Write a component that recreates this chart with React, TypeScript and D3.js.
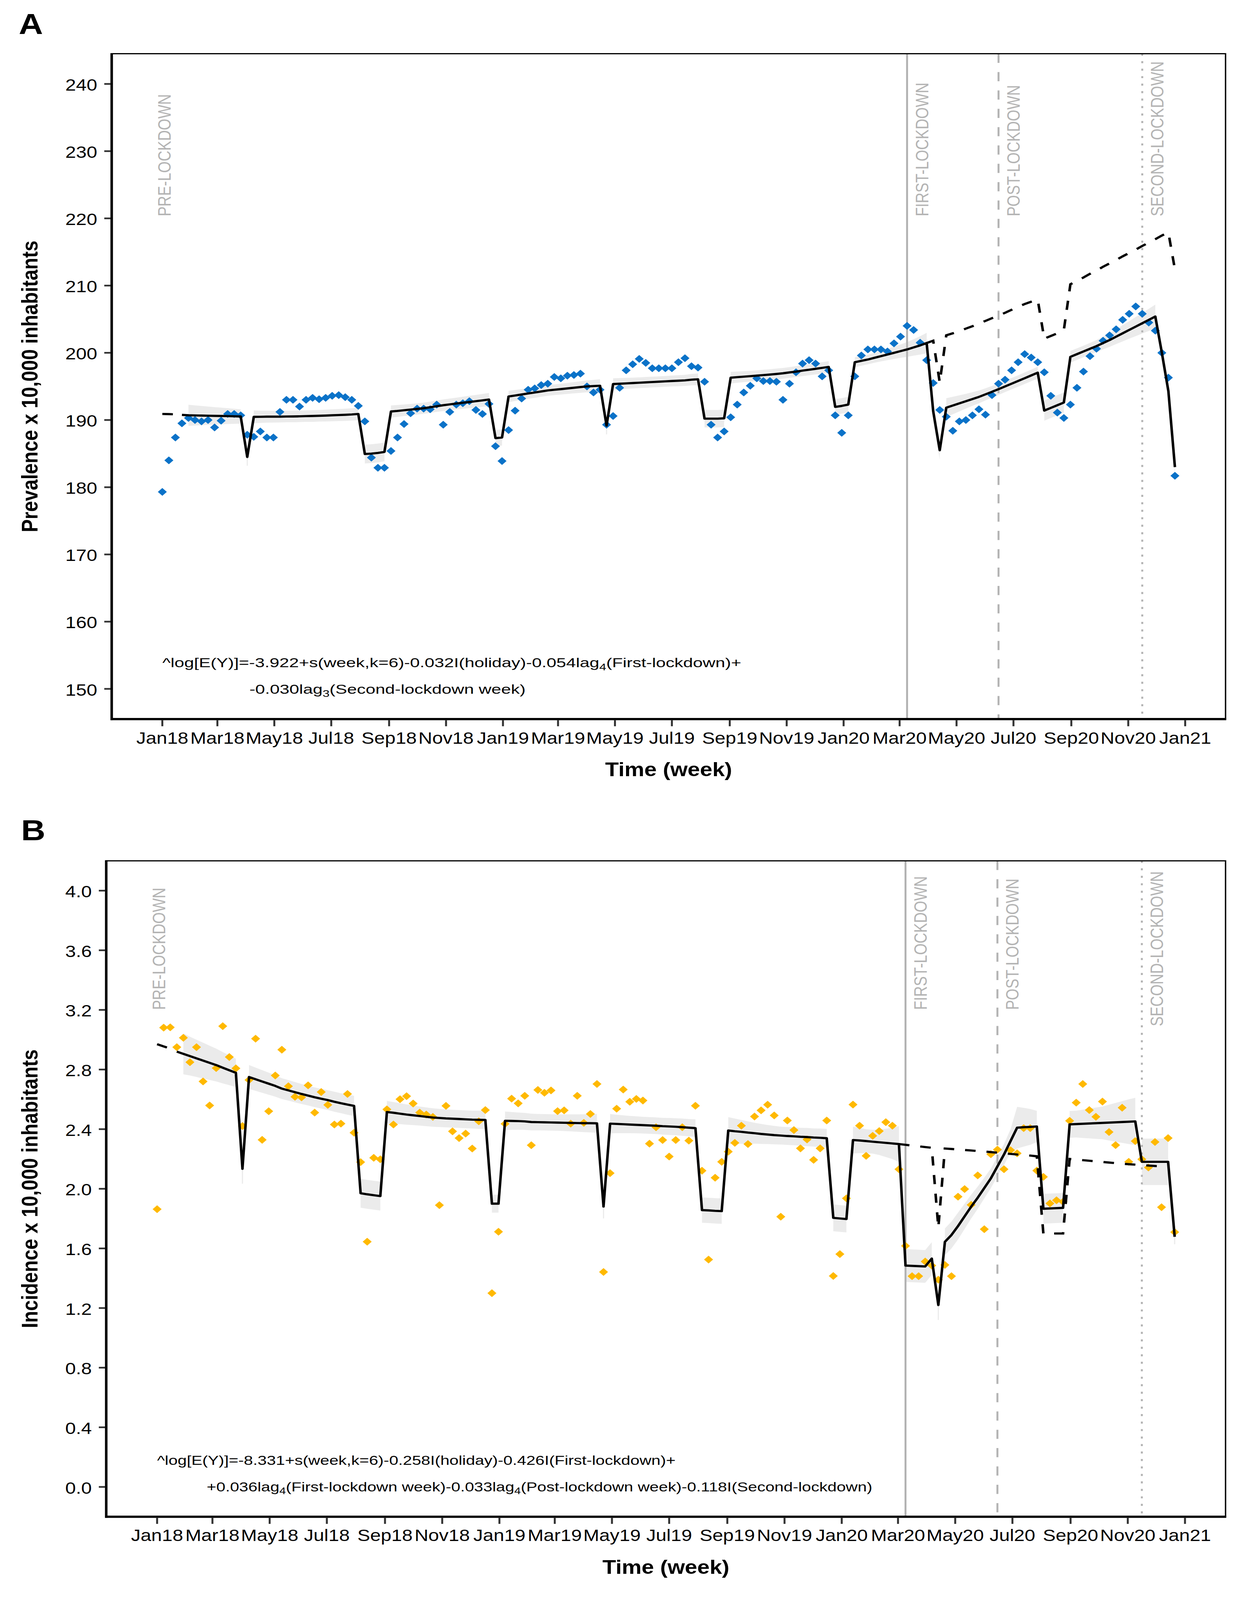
import React from "react";
import * as d3 from "d3";

const FONT = "'Liberation Sans', Arial, Helvetica, sans-serif";

// ---------- shared axis data ----------
const monthTicks = ["Jan18","Mar18","May18","Jul18","Sep18","Nov18","Jan19","Mar19","May19","Jul19","Sep19","Nov19","Jan20","Mar20","May20","Jul20","Sep20","Nov20","Jan21"];
const eventWeeks = [114, 128, 150];
const eventNames = ["FIRST-LOCKDOWN", "POST-LOCKDOWN", "SECOND-LOCKDOWN"];
const nWeeks = 156;

// ---------- Panel A : prevalence ----------
const prevYTicks = [150, 160, 170, 180, 190, 200, 210, 220, 230, 240];
const prevObs = [
  179.3,184.0,187.4,189.5,190.3,190.0,189.8,190.0,188.9,189.9,
  190.9,190.9,190.7,187.8,187.5,188.3,187.4,187.4,191.2,193.0,
  193.0,192.0,193.0,193.3,193.1,193.3,193.6,193.7,193.4,193.0,
  192.1,189.8,184.4,182.9,182.9,185.4,187.4,189.4,191.0,191.7,
  191.7,191.6,192.3,189.3,191.2,192.3,192.5,192.8,191.5,190.9,
  192.4,186.1,183.9,188.5,191.4,193.2,194.5,194.7,195.2,195.4,
  196.4,196.2,196.6,196.7,196.9,195.0,194.1,194.5,189.3,190.6,
  194.8,197.4,198.3,199.1,198.5,197.7,197.7,197.7,197.7,198.6,
  199.2,198.0,197.8,195.7,189.3,187.4,188.3,190.4,192.3,194.1,
  195.1,196.2,195.8,195.8,195.7,193.0,195.4,197.1,198.4,198.9,
  198.4,196.5,197.4,190.7,188.1,190.7,196.5,199.6,200.5,200.5,
  200.5,200.2,201.4,202.4,204.0,203.4,201.5,198.9,195.5,191.5,
  190.5,188.4,189.8,190.0,190.7,191.6,190.8,193.7,195.4,196.0,
  197.4,198.6,199.8,199.3,198.6,197.1,193.6,191.1,190.3,192.3,
  194.8,197.2,199.5,200.6,201.8,202.6,203.5,204.9,205.8,206.9,
  205.8,204.5,203.3,200.0,196.3,181.7
];
const prevFitStart = 3;
const prevFit = [
  190.76,190.70,190.68,190.66,190.64,190.62,190.60,190.58,190.55,190.53,
  184.5,
  190.47,190.48,190.50,190.50,190.50,190.52,190.53,190.55,190.58,190.60,190.63,190.66,190.70,190.74,190.78,190.83,190.90,
  184.94,185.00,185.10,185.25,
  191.27,191.35,191.45,191.55,191.65,191.75,191.90,192.05,192.20,192.32,192.45,192.57,192.68,192.80,192.92,193.05,
  187.3,187.4,
  193.50,193.65,193.80,193.95,194.10,194.25,194.40,194.50,194.60,194.70,194.80,194.90,195.00,195.05,195.10,
  189.16,
  195.35,195.40,195.45,195.50,195.55,195.60,195.65,195.70,195.75,195.80,195.85,195.90,196.00,196.06,
  190.20,190.20,190.20,190.25,
  196.30,196.38,196.45,196.52,196.60,196.68,196.76,196.85,196.95,197.08,197.20,197.35,197.48,197.62,197.76,197.90,
  191.95,192.10,192.30,
  198.60,198.80,199.00,199.25,199.50,199.75,200.00,200.25,200.50,200.80,201.10,201.46,
  191.3,185.5,
  191.84,192.16,192.48,192.80,193.12,193.44,193.82,194.20,194.59,195.00,195.40,195.81,196.22,196.63,197.05,
  191.4,191.8,192.2,192.6,
  199.4,199.8,200.2,200.6,201.0,201.45,201.9,202.4,202.9,203.4,203.9,204.4,204.9,205.4,
  200.0,194.3,183.0
];
const prevCiStart = 4;
const prevCiHalf = [
  1.57,1.50,1.43,1.37,1.30,1.24,1.18,1.12,1.07,
  1.3,
  0.95,0.92,0.90,0.88,0.87,0.86,0.86,0.86,0.86,0.87,0.87,0.88,0.89,0.90,0.91,0.92,0.93,
  1.4,1.4,1.4,1.4,
  0.90,0.88,0.86,0.85,0.84,0.84,0.84,0.85,0.86,0.87,0.88,0.90,0.92,0.94,0.96,0.98,
  1.2,1.2,
  0.85,0.82,0.80,0.80,0.80,0.80,0.80,0.80,0.81,0.82,0.84,0.86,0.88,0.92,0.97,
  1.3,
  0.86,0.84,0.82,0.81,0.80,0.80,0.80,0.80,0.80,0.81,0.82,0.83,0.85,0.87,
  1.3,1.3,1.3,1.3,
  0.86,0.84,0.82,0.80,0.80,0.80,0.80,0.80,0.80,0.80,0.80,0.81,0.82,0.83,0.84,0.86,
  1.16,1.16,1.16,
  0.75,0.72,0.72,0.74,0.78,0.84,0.92,1.00,1.10,1.22,1.36,1.52,
  1.4,1.4,
  1.40,1.30,1.20,1.10,1.02,0.95,0.90,0.87,0.85,0.84,0.84,0.85,0.86,0.87,0.88,
  1.5,1.5,1.5,1.5,
  0.87,0.86,0.86,0.87,0.90,0.95,1.02,1.10,1.20,1.30,1.42,1.53,1.65,1.77,
  1.3,1.25,1.2
];
const prevSegments = [[4,12],[13,13],[14,30],[31,34],[35,50],[51,52],[53,67],[68,68],[69,82],[83,86],[87,102],[103,105],[106,117],[118,119],[120,134],[135,138],[139,152],[153,155]];
const prevCfEarly = [190.90, 190.88, 190.84, 190.76];
const prevCfLateStart = 117;
const prevCfLate = [
  201.46,201.8,195.6,202.6,202.9,203.2,203.6,203.95,204.35,204.75,
  205.15,205.55,205.95,206.4,206.85,207.25,207.6,207.9,202.1,202.5,
  202.9,203.4,210.2,210.7,211.2,211.75,212.25,212.8,213.3,213.8,
  214.35,214.85,215.35,215.9,216.4,216.9,217.45,217.9,212.4
];
const prevLabelY = [220.3, 220.3, 220.3, 220.3];
const prevAnno1 = ["^log[E(Y)]=-3.922+s(week,k=6)-0.032I(holiday)-0.054lag", "4", "(First-lockdown)+"];
const prevAnno2 = ["-0.030lag", "3", "(Second-lockdown week)"];

// ---------- Panel B : incidence ----------
const incYTicks = [0, 0.4, 0.8, 1.2, 1.6, 2.0, 2.4, 2.8, 3.2, 3.6, 4.0];
const incObs = [
  1.863,3.081,3.083,2.950,3.013,2.849,2.950,2.720,2.559,2.810,
  3.091,2.884,2.808,2.421,2.730,3.007,2.328,2.520,2.760,2.933,
  2.688,2.617,2.613,2.694,2.511,2.649,2.563,2.431,2.437,2.636,
  2.376,2.179,1.645,2.208,2.198,2.533,2.431,2.601,2.621,2.572,
  2.511,2.498,2.482,1.890,2.556,2.385,2.340,2.370,2.270,2.453,
  2.528,1.300,1.712,2.436,2.605,2.573,2.624,2.292,2.663,2.644,
  2.660,2.521,2.526,2.437,2.624,2.442,2.502,2.703,1.442,2.105,
  2.537,2.666,2.584,2.603,2.592,2.303,2.413,2.327,2.216,2.327,
  2.413,2.323,2.557,2.121,1.525,2.074,2.181,2.249,2.308,2.423,
  2.300,2.485,2.526,2.564,2.492,1.813,2.458,2.394,2.271,2.331,
  2.194,2.271,2.458,1.415,1.562,1.936,2.565,2.423,2.221,2.355,
  2.387,2.447,2.423,2.131,1.617,1.414,1.414,1.512,1.485,1.390,
  1.489,1.414,1.947,1.998,1.892,2.090,1.729,2.232,2.263,2.131,
  2.259,2.238,2.407,2.407,2.122,2.080,1.902,1.923,1.913,2.456,
  2.578,2.703,2.528,2.483,2.585,2.381,2.293,2.544,2.181,2.320,
  2.198,2.143,2.314,1.876,2.340,1.709
];
const incFitStart = 3;
const incFit = [
  2.920,2.905,2.890,2.875,2.860,2.845,2.830,2.812,2.795,2.778,
  2.134,
  2.750,2.735,2.720,2.705,2.690,2.672,2.660,2.648,2.636,2.625,2.614,2.604,2.595,2.584,2.574,2.565,2.556,
  1.970,1.963,1.957,1.951,
  2.515,2.510,2.504,2.498,2.493,2.488,2.483,2.478,2.475,2.472,2.470,2.468,2.466,2.464,2.463,2.462,
  1.900,1.900,
  2.456,2.455,2.454,2.452,2.448,2.447,2.446,2.445,2.444,2.443,2.442,2.441,2.440,2.440,2.439,
  1.881,
  2.437,2.435,2.433,2.431,2.429,2.427,2.425,2.423,2.420,2.418,2.416,2.413,2.410,2.407,
  1.857,1.855,1.852,1.850,
  2.391,2.386,2.382,2.377,2.373,2.368,2.364,2.360,2.357,2.354,2.352,2.349,2.347,2.344,2.342,2.339,
  1.805,1.801,1.797,
  2.327,2.324,2.320,2.316,2.312,2.308,2.304,2.300,
  1.485,1.483,1.481,1.479,1.532,
  1.220,
  1.644,1.690,1.750,1.815,1.880,1.940,2.005,2.070,2.150,2.230,2.320,2.410,2.413,2.415,2.418,
  1.866,1.868,1.870,1.872,
  2.432,2.434,2.436,2.438,2.440,2.442,2.444,2.446,2.448,2.450,2.452,
  2.181,2.181,2.181,2.181,2.181,
  1.678
];
const incCiStart = 4;
const incCiHalf = [
  0.137,0.130,0.125,0.120,0.115,0.110,0.105,0.100,0.095,
  0.10,
  0.080,0.078,0.076,0.074,0.072,0.070,0.069,0.068,0.067,0.066,0.066,0.066,0.066,0.067,0.067,0.068,0.068,
  0.097,0.097,0.097,0.097,
  0.075,0.072,0.070,0.068,0.066,0.064,0.063,0.062,0.061,0.060,0.060,0.060,0.060,0.060,0.061,0.061,
  0.06,0.06,
  0.062,0.060,0.058,0.057,0.056,0.055,0.055,0.055,0.055,0.056,0.057,0.058,0.060,0.062,0.063,
  0.08,
  0.065,0.062,0.060,0.058,0.057,0.056,0.056,0.056,0.056,0.057,0.057,0.058,0.058,0.059,
  0.085,0.085,0.085,0.085,
  0.090,0.085,0.080,0.075,0.070,0.067,0.064,0.062,0.060,0.060,0.060,0.060,0.061,0.061,0.062,0.063,
  0.09,0.09,0.09,
  0.090,0.085,0.080,0.080,0.085,0.095,0.105,0.120,
  0.11,0.11,0.11,0.11,0.11,
  0.10,
  0.090,0.090,0.090,0.085,0.080,0.075,0.070,0.066,0.066,0.070,0.080,0.140,0.130,0.120,0.105,
  0.10,0.10,0.10,0.10,
  0.090,0.090,0.095,0.100,0.105,0.110,0.120,0.130,0.140,0.150,0.158,
  0.156,0.156,0.156,0.156,0.156,
  0.05
];
const incSegments = [[4,12],[13,13],[14,30],[31,34],[35,50],[51,52],[53,67],[68,68],[69,82],[83,86],[87,102],[103,105],[106,113],[114,118],[119,119],[120,134],[135,138],[139,149],[150,154],[155,155]];
const incCfEarly = [2.970, 2.955, 2.940, 2.920];
const incCfLateStart = 113;
const incCfLate = [
  2.300,2.295,2.290,2.285,2.280,2.275,1.740,2.270,2.267,2.264,
  2.260,2.257,2.253,2.250,2.246,2.242,2.238,2.234,2.230,2.227,
  2.223,2.218,1.700,1.700,1.700,1.700,2.200,2.196,2.192,2.188,
  2.184,2.180,2.176,2.172,2.168,2.165,2.162,2.159,2.156,2.153,
  2.150,2.148
];
const incLabelY = [3.2, 3.2, 3.2, 3.09];
const incAnno1 = ["^log[E(Y)]=-8.331+s(week,k=6)-0.258I(holiday)-0.426I(First-lockdown)+"];
const incAnno2 = ["+0.036lag", "4", "(First-lockdown week)-0.033lag", "4", "(Post-lockdown week)-0.118I(Second-lockdown)"];

// ---------- helpers ----------
const DAY = 864e5;
const T0 = Date.UTC(2018, 0, 1);
const weekDate = (w: number) => new Date(T0 + w * 7 * DAY);
const parseMonth = d3.utcParse("%b%y");

if (typeof document !== "undefined") {
  document.documentElement.style.margin = "0";
  document.documentElement.style.padding = "0";
  document.documentElement.style.overflow = "hidden";
  document.body.style.margin = "0";
  document.body.style.padding = "0";
  document.body.style.overflow = "hidden";
}

type PanelProps = {
  letter: string;
  letterX: number; letterY: number;
  left: number; right: number; top: number; bottom: number;
  yDomain: [number, number];
  yTicks: number[];
  yFormat: (v: number) => string;
  yTitle: string;
  obs: number[];
  fit: number[]; fitStart: number;
  ci: number[]; ciStart: number;
  segments: number[][];
  cfEarly: number[]; cfLate: number[]; cfLateStart: number;
  color: string;
  labelY: number[];
  anno1: string[]; anno2: string[];
  anno2Dx: number; annoScale: number;
};

function AnnoText({ x, y, parts, scale }: { x: number; y: number; parts: string[]; scale: number }) {
  return (
    <text transform={`translate(${x},${y}) scale(${scale},1)`} fontFamily={FONT} fontSize={38} fill="#000">
      {parts.map((p, i) =>
        i % 2 === 1 ? (
          <tspan key={i} fontSize={27} dy={9}>{p}</tspan>
        ) : (
          <tspan key={i} dy={i > 0 ? -9 : 0}>{p}</tspan>
        )
      )}
    </text>
  );
}

function Panel(p: PanelProps) {
  const x = d3.scaleUtc().domain([weekDate(-7.75), weekDate(nWeeks - 1 + 7.75)]).range([p.left, p.right]);
  const y = d3.scaleLinear().domain(p.yDomain).range([p.bottom, p.top]);
  const X = (w: number) => x(weekDate(w));
  const fitAt = (w: number) => p.fit[w - p.fitStart];
  const ciAt = (w: number) => p.ci[w - p.ciStart];

  const line = d3.line<[number, number]>().x(d => X(d[0])).y(d => y(d[1]));
  const area = d3.area<number>().x(w => X(w)).y0(w => y(fitAt(w) - ciAt(w))).y1(w => y(fitAt(w) + ciAt(w)));

  const fitPts: [number, number][] = p.fit.map((v, i) => [i + p.fitStart, v]);
  const cfEarlyPts: [number, number][] = p.cfEarly.map((v, i) => [i, v]);
  const cfLatePts: [number, number][] = p.cfLate.map((v, i) => [i + p.cfLateStart, v]);

  const ticks = monthTicks.map(m => ({ label: m, date: parseMonth(m) as Date }));
  const eventDash: (string | undefined)[] = [undefined, "27,27", "6,16"];
  const r = 11.5;
  const diamond = `M0,${-r}L${r},0L0,${r}L${-r},0Z`;
  const cy = (p.top + p.bottom) / 2;
  const cx = (p.left + p.right) / 2;

  return (
    <g>
      <text x={p.letterX} y={p.letterY} fontFamily={FONT} fontWeight="bold" fontSize={86}>{p.letter}</text>

      {p.segments.map(([s, e], i) => {
        if (s === e) {
          return <line key={i} x1={X(s)} x2={X(s)} y1={y(fitAt(s) - ciAt(s))} y2={y(fitAt(s) + ciAt(s))} stroke="#ebebeb" strokeWidth={3} />;
        }
        return <path key={i} d={area(d3.range(s, e + 1)) || ""} fill="#ebebeb" />;
      })}

      {eventWeeks.map((w, i) => (
        <line key={i} x1={X(w)} x2={X(w)} y1={p.top} y2={p.bottom} stroke="#b3b3b3" strokeWidth={5} strokeDasharray={eventDash[i]} />
      ))}

      {p.obs.map((v, i) => (
        <path key={i} d={diamond} transform={`translate(${X(i)},${y(v)})`} fill={p.color} />
      ))}

      <path d={line(fitPts) || ""} fill="none" stroke="#000" strokeWidth={6.5} strokeLinejoin="round" />
      <path d={line(cfEarlyPts) || ""} fill="none" stroke="#000" strokeWidth={6.5} strokeDasharray="27,28" />
      <path d={line(cfLatePts) || ""} fill="none" stroke="#000" strokeWidth={6.5} strokeDasharray="27,28" />

      <text transform={`translate(${X(0) + 21},${y(p.labelY[0])}) rotate(-90) scale(0.925,1)`} fontFamily={FONT} fontSize={47} fill="#b3b3b3">PRE-LOCKDOWN</text>
      {eventWeeks.map((w, i) => (
        <text key={i} transform={`translate(${X(w) + 54},${y(p.labelY[i + 1])}) rotate(-90) scale(0.925,1)`} fontFamily={FONT} fontSize={47} fill="#b3b3b3">{eventNames[i]}</text>
      ))}

      <AnnoText x={X(0)} y={p.bottom - 153} parts={p.anno1} scale={p.annoScale} />
      <AnnoText x={X(0) + p.anno2Dx} y={p.bottom - 75} parts={p.anno2} scale={p.annoScale} />

      <rect x={p.left} y={p.top} width={p.right - p.left} height={p.bottom - p.top} fill="none" stroke="#000" strokeWidth={3.5} />
      <line x1={p.left} x2={p.left} y1={p.top - 1.75} y2={p.bottom + 3} stroke="#000" strokeWidth={6.5} />
      <line x1={p.left - 3} x2={p.right + 1.75} y1={p.bottom} y2={p.bottom} stroke="#000" strokeWidth={6.5} />

      {p.yTicks.map((t, i) => (
        <g key={i}>
          <line x1={p.left - 19} x2={p.left - 3} y1={y(t)} y2={y(t)} stroke="#333" strokeWidth={5} />
          <text x={p.left - 37} y={y(t)} dy="0.4em" textAnchor="end" fontFamily={FONT} fontSize={49} fill="#000">{p.yFormat(t)}</text>
        </g>
      ))}
      {ticks.map((t, i) => (
        <g key={i}>
          <line x1={x(t.date)} x2={x(t.date)} y1={p.bottom + 3} y2={p.bottom + 21} stroke="#333" strokeWidth={5} />
          <text x={x(t.date)} y={p.bottom + 72} textAnchor="middle" fontFamily={FONT} fontSize={49} fill="#000">{t.label}</text>
        </g>
      ))}

      <text x={cx} y={p.bottom + 168} textAnchor="middle" fontFamily={FONT} fontWeight="bold" fontSize={57}>Time (week)</text>
      <text transform={`translate(96,${cy}) rotate(-90)`} textAnchor="middle" fontFamily={FONT} fontWeight="bold" fontSize={57}>{p.yTitle}</text>
    </g>
  );
}

export default function App() {
  return (
    <svg
      viewBox="0 0 3175 4708"
      preserveAspectRatio="none"
      style={{ display: "block", width: "100vw", height: "100vh", background: "#fff" }}
    >
      <rect x={0} y={0} width={3175} height={4708} fill="#fff" />
      <Panel
        letter="A" letterX={48} letterY={100}
        left={286} right={3138} top={158} bottom={2116}
        yDomain={[145.5, 244.5]} yTicks={prevYTicks} yFormat={d3.format("d")}
        yTitle="Prevalence x 10,000 inhabitants"
        obs={prevObs} fit={prevFit} fitStart={prevFitStart} ci={prevCiHalf} ciStart={prevCiStart}
        segments={prevSegments} cfEarly={prevCfEarly} cfLate={prevCfLate} cfLateStart={prevCfLateStart}
        color="#0A72C8" labelY={prevLabelY}
        anno1={prevAnno1} anno2={prevAnno2} anno2Dx={223} annoScale={1.183}
      />
      <Panel
        letter="B" letterX={54} letterY={2472}
        left={272} right={3138} top={2533} bottom={4463}
        yDomain={[-0.2, 4.2]} yTicks={incYTicks} yFormat={d3.format(".1f")}
        yTitle="Incidence x 10,000 inhabitants"
        obs={incObs} fit={incFit} fitStart={incFitStart} ci={incCiHalf} ciStart={incCiStart}
        segments={incSegments} cfEarly={incCfEarly} cfLate={incCfLate} cfLateStart={incCfLateStart}
        color="#FFB900" labelY={incLabelY}
        anno1={incAnno1} anno2={incAnno2} anno2Dx={127} annoScale={1.108}
      />
    </svg>
  );
}
